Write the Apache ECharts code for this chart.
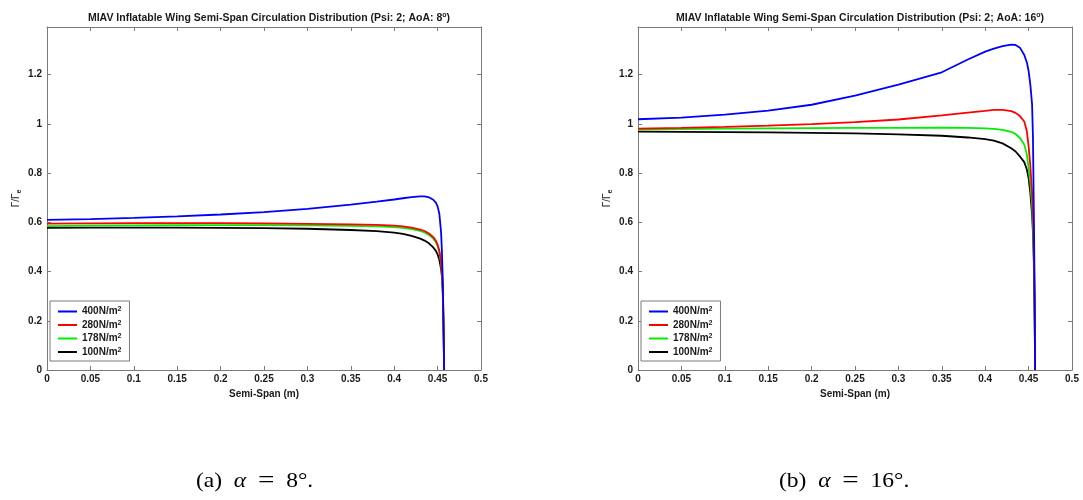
<!DOCTYPE html>
<html>
<head>
<meta charset="utf-8">
<script src="https://cdn.jsdelivr.net/npm/echarts@6/dist/echarts.min.js"></script>
<style>
html,body{margin:0;padding:0;background:#fff;}
#c{width:1083px;height:500px;}
</style>
</head>
<body>
<div id="c"></div>
<script>
// ---- data ----
const spanX = [0, 0.05, 0.1, 0.15, 0.2, 0.25, 0.3, 0.35, 0.38, 0.4, 0.41, 0.42, 0.43, 0.435, 0.44, 0.445, 0.448, 0.45, 0.452, 0.454, 0.455, 0.456, 0.457, 0.4575];
const seriesNames = ['400N/m²', '280N/m²', '178N/m²', '100N/m²'];
const seriesColors = ['#0000ff', '#ff0000', '#00ee00', '#000000'];

// alpha = 8 deg
const a8_400 = [0.610, 0.613, 0.618, 0.624, 0.632, 0.642, 0.655, 0.672, 0.684, 0.693, 0.698, 0.703, 0.706, 0.706, 0.702, 0.692, 0.680, 0.665, 0.635, 0.56, 0.48, 0.36, 0.15, 0];
const a8_280 = [0.595, 0.596, 0.597, 0.597, 0.597, 0.596, 0.594, 0.592, 0.590, 0.587, 0.584, 0.579, 0.571, 0.565, 0.555, 0.540, 0.525, 0.51, 0.485, 0.44, 0.40, 0.33, 0.15, 0];
const a8_178 = [0.585, 0.587, 0.588, 0.589, 0.589, 0.589, 0.588, 0.586, 0.584, 0.581, 0.578, 0.573, 0.565, 0.559, 0.549, 0.534, 0.52, 0.505, 0.48, 0.435, 0.395, 0.32, 0.14, 0];
const a8_100 = [0.578, 0.579, 0.579, 0.579, 0.578, 0.577, 0.574, 0.569, 0.564, 0.558, 0.553, 0.545, 0.534, 0.526, 0.515, 0.498, 0.484, 0.47, 0.448, 0.41, 0.38, 0.31, 0.13, 0];

// alpha = 16 deg
const a16_400 = [1.019, 1.026, 1.038, 1.054, 1.078, 1.115, 1.160, 1.210, 1.262, 1.294, 1.306, 1.316, 1.322, 1.321, 1.310, 1.280, 1.250, 1.215, 1.16, 1.08, 0.95, 0.65, 0.3, 0];
const a16_280 = [0.981, 0.984, 0.988, 0.993, 0.999, 1.007, 1.018, 1.035, 1.046, 1.053, 1.057, 1.057, 1.052, 1.045, 1.032, 1.01, 0.97, 0.91, 0.83, 0.72, 0.64, 0.52, 0.25, 0];
const a16_178 = [0.977, 0.979, 0.981, 0.982, 0.983, 0.984, 0.984, 0.985, 0.984, 0.982, 0.980, 0.976, 0.968, 0.959, 0.943, 0.916, 0.876, 0.82, 0.76, 0.67, 0.60, 0.48, 0.22, 0];
const a16_100 = [0.969, 0.968, 0.967, 0.966, 0.964, 0.962, 0.958, 0.952, 0.945, 0.938, 0.932, 0.921, 0.901, 0.888, 0.868, 0.845, 0.815, 0.78, 0.72, 0.63, 0.56, 0.44, 0.2, 0];

const chartTitles = [
  'MIAV Inflatable Wing Semi-Span Circulation Distribution (Psi: 2; AoA: 8{sup|o})',
  'MIAV Inflatable Wing Semi-Span Circulation Distribution (Psi: 2; AoA: 16{sup|o})'
];
const captions = ['(a)\u2002{i|α}\u2002{eq|=}\u20028°.', '(b)\u2002{i|α}\u2002{eq|=}\u200216°.'];
const xName = 'Semi-Span (m)';

const panels = [[a8_400, a8_280, a8_178, a8_100], [a16_400, a16_280, a16_178, a16_100]];

// ---- chart ----
const gridLeft = [47, 638];
const gridW = 434, gridTop = 27, gridH = 343;
const axisCol = '#7a7a7a';
const txtCol = '#1a1a1a';
const lblFont = {fontFamily: 'Liberation Sans, Arial, sans-serif', fontWeight: 'bold', fontSize: 10, color: txtCol};

const grids = [], xAxes = [], yAxes = [], series = [], titles = [], legends = [], graphics = [];
panels.forEach((p, i) => {
  grids.push({left: gridLeft[i], top: gridTop, width: gridW, height: gridH, containLabel: false});
  xAxes.push({
    type: 'value', gridIndex: i, min: 0, max: 0.5, interval: 0.05, position: 'bottom',
    axisLine: {show: true, onZero: false, lineStyle: {color: axisCol, width: 1}},
    axisTick: {show: true, inside: true, length: 4, lineStyle: {color: axisCol}},
    axisLabel: Object.assign({margin: 4}, lblFont),
    splitLine: {show: false},
    name: xName, nameLocation: 'middle', nameGap: 19, nameTextStyle: lblFont
  });
  xAxes.push({
    type: 'value', gridIndex: i, min: 0, max: 0.5, interval: 0.05, position: 'top',
    axisLine: {show: true, onZero: false, lineStyle: {color: axisCol, width: 1}},
    axisTick: {show: true, inside: true, length: 4, lineStyle: {color: axisCol}},
    axisLabel: {show: false}, splitLine: {show: false}
  });
  yAxes.push({
    type: 'value', gridIndex: i, min: 0, max: 1.394, interval: 0.2, position: 'left',
    axisLine: {show: true, onZero: false, lineStyle: {color: axisCol, width: 1}},
    axisTick: {show: true, inside: true, length: 4, lineStyle: {color: axisCol}},
    axisLabel: Object.assign({margin: 5, showMaxLabel: false}, lblFont),
    splitLine: {show: false},
    name: '{n|Γ/Γ}{sub|e}', nameLocation: 'middle', nameGap: 24,
    nameTextStyle: {
      rich: {
        n: {fontFamily: 'Liberation Sans, Arial, sans-serif', fontSize: 10, color: txtCol, lineHeight: 14, verticalAlign: 'middle'},
        sub: {fontFamily: 'Liberation Sans, Arial, sans-serif', fontSize: 7, fontWeight: 'bold', color: txtCol, lineHeight: 14, verticalAlign: 'bottom'}
      }
    }
  });
  yAxes.push({
    type: 'value', gridIndex: i, min: 0, max: 1.394, interval: 0.2, position: 'right',
    axisLine: {show: true, onZero: false, lineStyle: {color: axisCol, width: 1}},
    axisTick: {show: true, inside: true, length: 4, lineStyle: {color: axisCol}},
    axisLabel: {show: false}, splitLine: {show: false}
  });
  p.forEach((vals, k) => {
    series.push({
      type: 'line', name: seriesNames[k], xAxisIndex: 2 * i, yAxisIndex: 2 * i,
      data: spanX.map((x, j) => [x, vals[j]]),
      showSymbol: false, symbol: 'none', smooth: false,
      lineStyle: {color: seriesColors[k], width: 1.8},
      itemStyle: {color: seriesColors[k]},
      z: 10 - k
    });
  });
  titles.push({
    text: chartTitles[i], left: gridLeft[i] + gridW / 2, top: 7, textAlign: 'center',
    textStyle: {
      fontFamily: 'Liberation Sans, Arial, sans-serif', fontWeight: 'bold', fontSize: 10.5, color: txtCol,
      rich: {sup: {fontFamily: 'Liberation Sans, Arial, sans-serif', fontWeight: 'bold', fontSize: 7, color: txtCol, verticalAlign: 'top', lineHeight: 13}}
    }
  });
  legends.push({
    data: seriesNames, orient: 'vertical', left: gridLeft[i] + 3, top: 301,
    width: 83, itemWidth: 19, itemHeight: 2, itemGap: 3, icon: 'rect',
    padding: [5, 8, 4, 8], borderColor: axisCol, borderWidth: 1, backgroundColor: '#fff',
    selectedMode: false,
    formatter: n => n.replace('²', '{sup|2}'),
    textStyle: {
      fontFamily: 'Liberation Sans, Arial, sans-serif', fontWeight: 'bold', fontSize: 10, color: txtCol, padding: [0, 0, 0, 0],
      rich: {sup: {fontFamily: 'Liberation Sans, Arial, sans-serif', fontWeight: 'bold', fontSize: 7, color: txtCol, verticalAlign: 'top', lineHeight: 11}}
    }
  });
});

const capX = [196, 779];
captions.forEach((c, i) => {
  graphics.push({
    type: 'text', x: capX[i], y: 481, scaleX: 1.12, z: 100,
    style: {
      text: c, fill: '#000', font: '21px "Liberation Serif", "DejaVu Serif", serif',
      textAlign: 'left', textVerticalAlign: 'middle',
      rich: {
        i: {fontStyle: 'italic', fontFamily: 'Liberation Serif', fontSize: 21, fill: '#000'},
        eq: {fontFamily: 'Liberation Serif', fontSize: 26, fill: '#000'}
      }
    }
  });
});

const chart = echarts.init(document.getElementById('c'), null, {renderer: 'canvas'});
chart.setOption({
  animation: false,
  backgroundColor: '#fff',
  title: titles,
  legend: legends,
  grid: grids,
  xAxis: xAxes,
  yAxis: yAxes,
  series: series,
  graphic: graphics
});
</script>
</body>
</html>
